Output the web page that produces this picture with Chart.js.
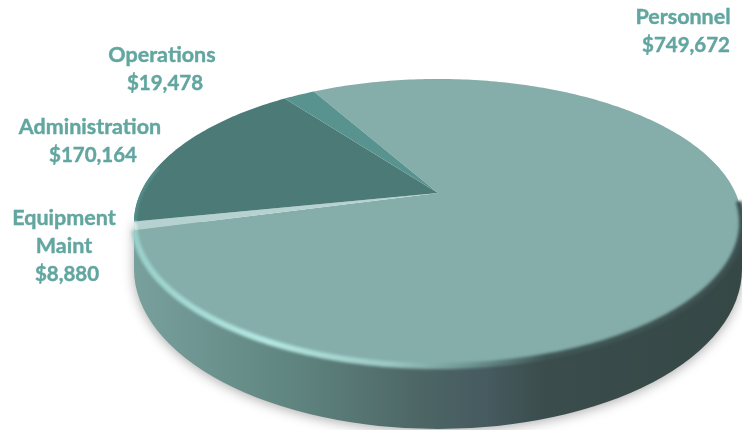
<!DOCTYPE html>
<html>
<head>
<meta charset="utf-8">
<title>Budget by category</title>
<script src="https://cdn.jsdelivr.net/npm/chart.js@4"></script>
<style>
  html, body { margin: 0; padding: 0; background: #fff; }
  canvas { display: block; }
</style>
</head>
<body>
<canvas id="budgetPie" width="742" height="430"></canvas>
<script>
// Clockwise from the Personnel slice
const categories = ['Personnel', 'Equipment Maint', 'Administration', 'Operations'];
const amounts = [749672, 8880, 170164, 19478];
const sliceColors = ['#85aeab', '#b6d2d0', '#4b7a77', '#589390'];

// Label block centres, first line baseline
const labelLines = [['Personnel'], ['Equipment', 'Maint'], ['Administration'], ['Operations']];
const labelAnchors = [[683, 24], [64, 225], [90, 134], [162, 62]];

// Tilted disc: apex of the pie and the perspective terms of the top face
const APEX_X = 438;
const APEX_Y = 193;
const PERSPECTIVE = -0.2056;
const SCALE_X = 297.5;
const SCALE_Y = 97.8;

function project(angle) {
  const u = Math.cos(angle);
  const v = Math.sin(angle);
  const w = 1 + PERSPECTIVE * v;
  return [APEX_X + SCALE_X * u / w, (SCALE_Y * v + APEX_Y) / w];
}

function tracePath(ctx, from, to) {
  const steps = Math.max(8, Math.ceil(Math.abs(to - from) * 60));
  for (let i = 0; i <= steps; i++) {
    const p = project(from + (to - from) * i / steps);
    ctx.lineTo(p[0], p[1]);
  }
}

function sideGradient(ctx) {
  const g = ctx.createLinearGradient(133, 0, 742, 0);
  g.addColorStop(0, '#78a09c');
  g.addColorStop(0.27, '#5f8480');
  g.addColorStop(0.47, '#4d6665');
  g.addColorStop(0.58, '#465a60');
  g.addColorStop(0.68, '#3a4c4b');
  g.addColorStop(1, '#364846');
  return g;
}

function rimGradient(ctx) {
  const g = ctx.createLinearGradient(133, 0, 742, 0);
  g.addColorStop(0, '#9ad0ca');
  g.addColorStop(0.22, '#b5e8e2');
  g.addColorStop(0.42, '#9cc8c4');
  g.addColorStop(0.55, '#6e9693');
  g.addColorStop(0.68, '#3f5655');
  g.addColorStop(1, '#3c504f');
  return g;
}

const discPlugin = {
  id: 'disc',
  // wall of the disc with its drop shadow
  beforeDatasetsDraw(chart) {
    const ctx = chart.ctx;
    ctx.save();
    ctx.shadowColor = 'rgba(0,0,0,0.32)';
    ctx.shadowBlur = 12;
    ctx.shadowOffsetY = 2;
    ctx.fillStyle = sideGradient(ctx);
    ctx.beginPath();
    ctx.moveTo(134, 222);
    ctx.lineTo(134, 269);
    ctx.ellipse(438, 269, 304, 160, 0, Math.PI, 0, true);
    ctx.lineTo(742, 222);
    ctx.closePath();
    ctx.fill();
    ctx.restore();
  },
  // slices come from the angles the pie controller worked out
  beforeDatasetDraw(chart, args) {
    const ctx = chart.ctx;
    const arcs = chart.getDatasetMeta(args.index).data;
    arcs.forEach((arc, i) => {
      ctx.beginPath();
      ctx.moveTo(APEX_X, APEX_Y);
      tracePath(ctx, arc.startAngle, arc.endAngle);
      ctx.closePath();
      ctx.fillStyle = sliceColors[i];
      ctx.fill();
    });
    return false;
  },
  // soft bevel along the front edge
  afterDatasetsDraw(chart) {
    const ctx = chart.ctx;
    const arcs = chart.getDatasetMeta(0).data;
    ctx.save();
    ctx.filter = 'blur(1.6px)';
    ctx.strokeStyle = rimGradient(ctx);
    ctx.lineWidth = 6;
    ctx.beginPath();
    tracePath(ctx, 0.06, arcs[0].endAngle);
    ctx.stroke();
    ctx.restore();

    // rim on the slices at the far left, kept inside the top face
    ctx.save();
    ctx.beginPath();
    tracePath(ctx, 0, Math.PI * 2);
    ctx.clip();
    ctx.filter = 'blur(0.8px)';
    ctx.lineWidth = 6;
    ctx.strokeStyle = '#528d88';
    ctx.beginPath();
    tracePath(ctx, arcs[2].startAngle, arcs[2].startAngle + 0.4);
    ctx.stroke();
    ctx.strokeStyle = '#d4e9e6';
    ctx.beginPath();
    tracePath(ctx, arcs[1].startAngle, arcs[1].endAngle);
    ctx.stroke();
    ctx.restore();

    ctx.save();
    ctx.fillStyle = '#62a6a0';
    ctx.strokeStyle = '#62a6a0';
    ctx.lineWidth = 0.4;
    ctx.textAlign = 'center';
    labelLines.forEach((lines, i) => {
      const [x, y] = labelAnchors[i];
      ctx.font = 'bold 21.5px Lato';
      lines.forEach((line, n) => {
        ctx.fillText(line, x, y + n * 28);
        ctx.strokeText(line, x, y + n * 28);
      });
      // amount line sits a touch right of the name
      const amount = '$' + amounts[i].toLocaleString('en-US');
      ctx.font = 'bold 20.5px Lato';
      ctx.fillText(amount, x + 3, y + lines.length * 28);
      ctx.strokeText(amount, x + 3, y + lines.length * 28);
    });
    ctx.restore();
  }
};

new Chart(document.getElementById('budgetPie'), {
  type: 'pie',
  data: {
    labels: categories,
    datasets: [{ data: amounts, backgroundColor: sliceColors, borderWidth: 0 }],
  },
  options: {
    responsive: false,
    rotation: -29.5,
    animation: false,
    plugins: {
      legend: { display: false },
      tooltip: { enabled: false },
    },
  },
  plugins: [discPlugin],
});
</script>
</body>
</html>
